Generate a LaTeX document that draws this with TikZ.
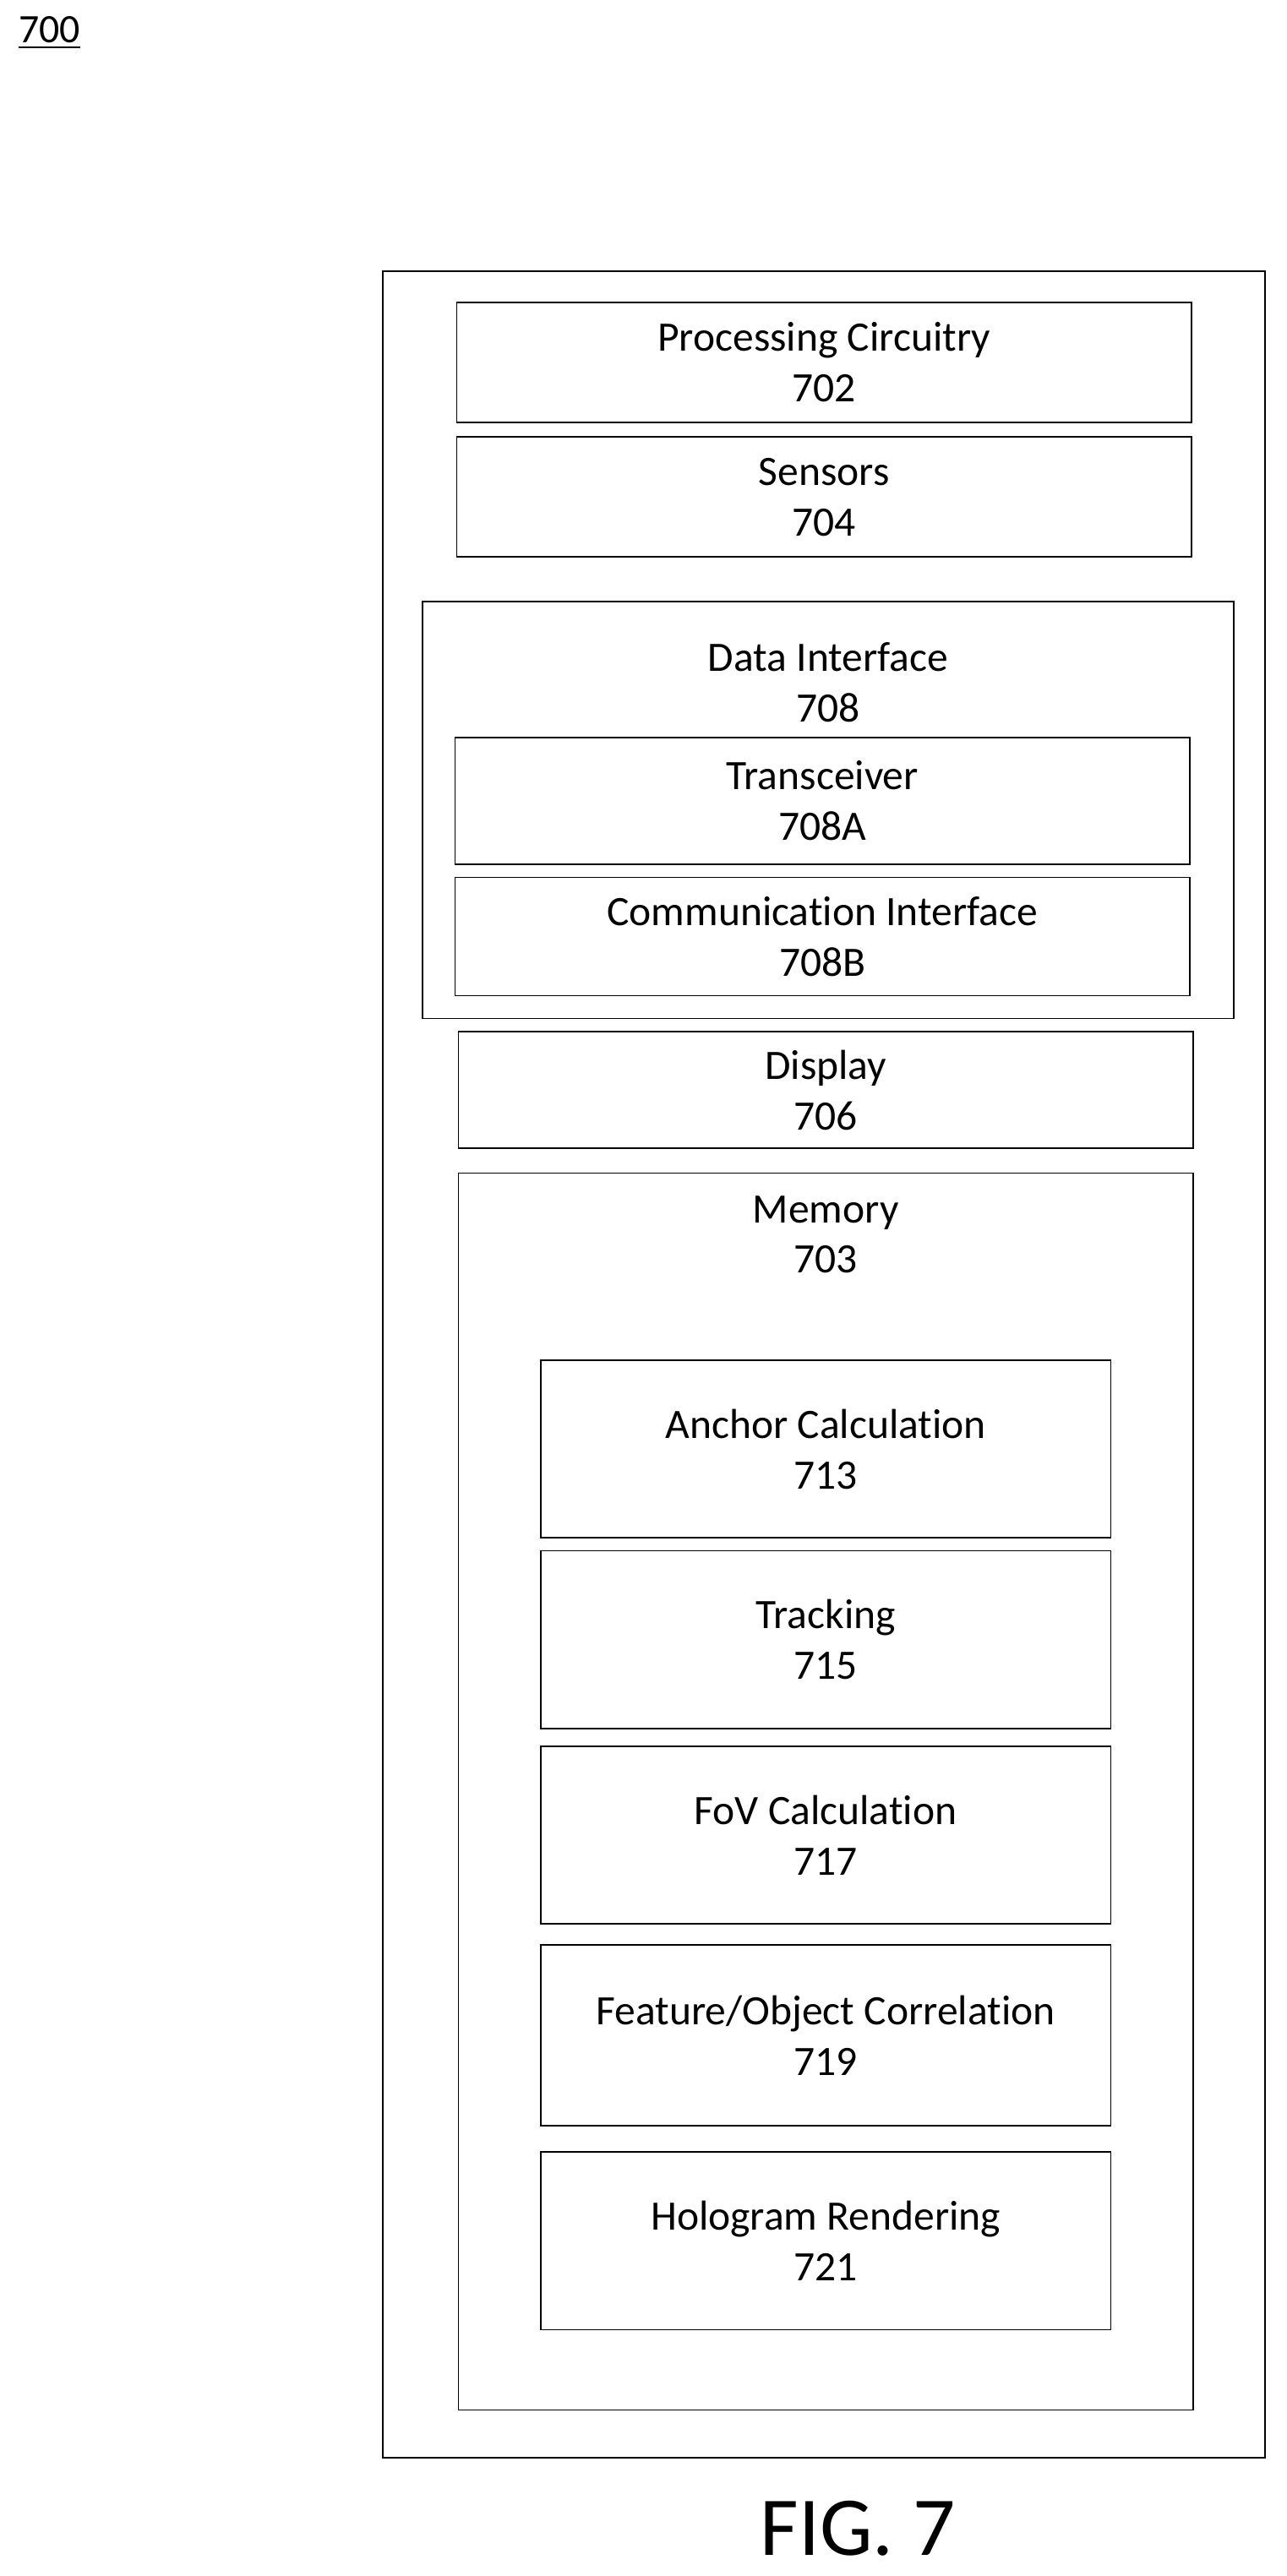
\documentclass[tikz,border=0pt]{standalone}
\usepackage{fontspec}
\setmainfont{Carlito}[RawFeature={-liga}]
\begin{document}
\begin{tikzpicture}[x=0.02cm,y=-0.02cm,
  blk/.style={draw,line width=0.5pt,inner sep=0pt,align=center,font=\fontsize{14.5}{17.5}\selectfont},
  ttl/.style={align=center,inner sep=0pt,font=\fontsize{14.5}{17.5}\selectfont}]
\useasboundingbox (0,0) rectangle (783,1568);

% figure number
\node[anchor=west,inner sep=0pt,font=\fontsize{14}{16}\selectfont] (num) at (11,20) {\underline{700}};

% outer device
\draw[line width=0.5pt] (233,165) rectangle (770,1496);

% top blocks
\node[blk,minimum width=447*0.02cm,minimum height=73*0.02cm] (proc) at (501.5,220.5) {Processing Circuitry\\702};
\node[blk,minimum width=447*0.02cm,minimum height=73*0.02cm] (sens) at (501.5,302.5) {Sensors\\704};

% data interface
\draw[line width=0.5pt] (257,366) rectangle (751,620);
\node[ttl] (dititle) at (504,415.5) {Data Interface\\708};
\node[blk,minimum width=447*0.02cm,minimum height=77*0.02cm] (trx) at (500.5,487.5) {Transceiver\\708A};
\node[blk,minimum width=447*0.02cm,minimum height=72*0.02cm] (comm) at (500.5,570) {Communication Interface\\708B};

% display
\node[blk,minimum width=447*0.02cm,minimum height=71*0.02cm] (disp) at (502.5,663.5) {Display\\706};

% memory
\draw[line width=0.5pt] (279,714) rectangle (726,1467);
\node[ttl] (memtitle) at (502.5,751.5) {Memory\\703};
\node[blk,minimum width=347*0.02cm,minimum height=108*0.02cm] (anchor) at (502.5,882) {Anchor Calculation\\713};
\node[blk,minimum width=347*0.02cm,minimum height=108*0.02cm] (track) at (502.5,998) {Tracking\\715};
\node[blk,minimum width=347*0.02cm,minimum height=108*0.02cm] (fov) at (502.5,1117) {FoV Calculation\\717};
\node[blk,minimum width=347*0.02cm,minimum height=110*0.02cm] (feat) at (502.5,1239) {Feature/Object Correlation\\719};
\node[blk,minimum width=347*0.02cm,minimum height=108*0.02cm] (holo) at (502.5,1364) {Hologram Rendering\\721};

% caption
\node[inner sep=0pt,font=\fontsize{29}{32}\selectfont] (fig) at (522,1539) {FIG. 7};
\end{tikzpicture}
\end{document}
